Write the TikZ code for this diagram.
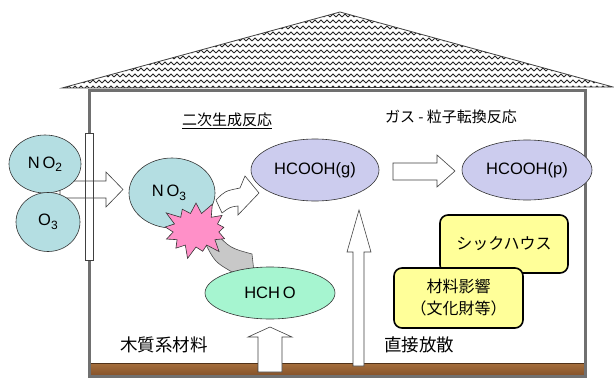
\documentclass[tikz,border=0pt]{standalone}
\usepackage{fontspec}
\setmainfont{Liberation Sans}
\newfontfamily\jp{Noto Sans CJK JP}
\usetikzlibrary{shapes.geometric,shapes.symbols,patterns}

% woven tile texture for the roof
\pgfdeclarepatternformonly{roofweave}{\pgfqpoint{-0.5pt}{-0.5pt}}{\pgfqpoint{6.5pt}{6.5pt}}{\pgfqpoint{6pt}{6pt}}{%
  \pgfsetlinewidth{0.8pt}%
  \pgfpathmoveto{\pgfqpoint{0pt}{1pt}}\pgfpathlineto{\pgfqpoint{3pt}{4pt}}\pgfpathlineto{\pgfqpoint{6pt}{1pt}}%
  \pgfusepath{stroke}}

\definecolor{gascyan}{HTML}{B4DEE2}
\definecolor{acidlav}{HTML}{CCCCEE}
\definecolor{hchomint}{HTML}{A6F5D0}
\definecolor{noteyellow}{HTML}{FFFF99}
\definecolor{burstpink}{HTML}{FF90C8}
\definecolor{flowgray}{HTML}{C8C8C8}
\definecolor{wallgray}{HTML}{707070}
\definecolor{woodtop}{HTML}{A66F3C}
\definecolor{woodbot}{HTML}{86532A}

\newcommand{\chemsub}[1]{\raisebox{-0.4ex}{\fontsize{12}{12}\selectfont #1}}

\begin{document}
\begin{tikzpicture}[x=1pt,y=-1pt,
  chem/.style={ellipse, draw=black!80, line width=0.6pt, inner sep=0pt,
    font=\fontsize{16.5}{16.5}\selectfont},
  note/.style={draw=black, line width=1.6pt, rounded corners=8pt, fill=noteyellow,
    inner sep=0pt, align=center, font=\jp\fontsize{16}{22}\selectfont},
  hollow/.style={draw=black!75, line width=0.6pt, fill=white, line join=miter},
  wall/.style={draw=wallgray, line width=3pt},
  caption/.style={font=\jp\fontsize{15}{15}\selectfont, inner sep=0pt},
  floorlabel/.style={font=\jp\fontsize{17.5}{17.5}\selectfont, inner sep=0pt}]
\useasboundingbox (0,0) rectangle (614,378);

% roof
\coordinate (eaveL) at (62,88);
\coordinate (ridge) at (340,12);
\coordinate (eaveR) at (613,87);
\fill[white] (eaveL) -- (ridge) -- (eaveR) -- cycle;
\fill[pattern=roofweave, pattern color=black!85] (eaveL) -- (ridge) -- (eaveR) -- cycle;
\draw[black!75, line width=0.8pt, line join=miter] (eaveL) -- (ridge) -- (eaveR) -- cycle;

% wooden floor
\shade[top color=woodtop, bottom color=woodbot] (89,363) rectangle (585,375);
\draw[black!40!woodbot, line width=0.5pt] (89,363) -- (585,363);

% house walls, left wall interrupted by the window
\draw[wall] (89,133) -- (89,90) -- (585,90) -- (585,376) -- (89,376) -- (89,260);

% outdoor air entering through the window
\draw[hollow] (60,181) -- (106,181) -- (106,172) -- (123,189.5) -- (106,207)
  -- (106,198) -- (60,198) -- cycle;
\draw[black!75, line width=0.7pt] (85,133) rectangle (93,260);

\node[chem, fill=gascyan, minimum width=72pt, minimum height=58pt] (no2) at (45,164) {N\,O\chemsub{2}};
\node[chem, fill=gascyan, minimum width=64pt, minimum height=59pt] (o3) at (48,222) {O\chemsub{3}};

% HCHO feeding the reaction (gray band)
\draw[black!70, line width=0.6pt, fill=flowgray]
  (232,272) .. controls (215,262) .. (205,243) -- (215,232)
  .. controls (230,248) .. (252,254) -- (254,272) -- cycle;

\node[chem, fill=hchomint, minimum width=130pt, minimum height=52pt] (hcho) at (270,293) {HCH\,O};

% NO3 and its reaction product
\node[chem, fill=gascyan, minimum width=86pt, minimum height=70pt] (no3) at (172,193) {};
\node[font=\fontsize{16.5}{16.5}\selectfont, inner sep=0pt] (no3txt) at (169,193) {N\,O\chemsub{3}};

\draw[hollow] (216,200) .. controls (225,191) .. (240,188) -- (245,176) -- (259,193)
  -- (238,215) -- (238,206) .. controls (230,207) .. (222,213) -- cycle;

\node[starburst, starburst points=13, starburst point height=14pt, fill=burstpink,
  draw=black!80, line width=0.6pt, minimum width=74pt, minimum height=62pt,
  inner sep=0pt] (burst) at (196,230) {};

\node[chem, fill=acidlav, minimum width=128pt, minimum height=62pt] (hcoohg) at (315,170) {HCOOH(g)};
\node[chem, fill=acidlav, minimum width=130pt, minimum height=60pt] (hcoohp) at (527,170) {HCOOH(p)};

% gas to particle conversion
\draw[hollow] (393,163) -- (437,163) -- (437,155) -- (455,171) -- (437,187)
  -- (437,180) -- (393,180) -- cycle;

% emission from the wooden materials
\draw[hollow] (258,372) -- (258,337) -- (248,337) -- (270,327) -- (292,337)
  -- (282,337) -- (282,372) -- cycle;
% direct emission
\draw[hollow] (353,366) -- (353,252) -- (347,252) -- (359,210) -- (371,252)
  -- (364,252) -- (364,366) -- cycle;

% effects
\node[note, minimum width=128pt, minimum height=58pt] (sick) at (504,244) {シックハウス};
\node[note, minimum width=129pt, minimum height=60pt] (material) at (458.5,298) {材料影響\\（文化財等）};

% captions
\node[caption] (secondary) at (227,121) {\underline{二次生成反応}};
\node[caption] (conversion) at (451,117) {ガス - 粒子転換反応};
\node[floorlabel] (wood) at (164,345) {木質系材料};
\node[floorlabel] (direct) at (419,345) {直接放散};
\end{tikzpicture}
\end{document}
